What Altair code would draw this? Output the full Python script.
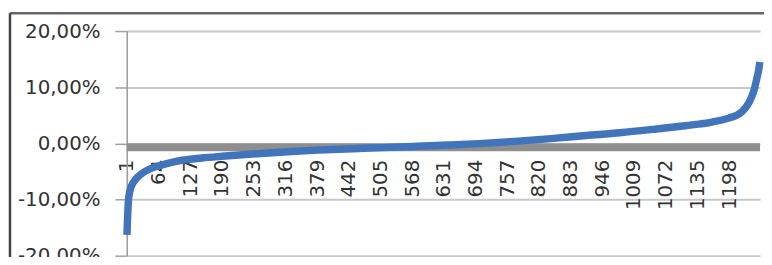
import altair as alt
import pandas as pd

obs_index = [1, 2, 3, 4, 6, 9, 14, 20, 30, 45, 60, 80, 110, 150, 190, 250, 320, 380,
             450, 510, 570, 640, 700, 772, 844, 914, 981, 1046, 1111, 1164, 1197,
             1223, 1237, 1247, 1253, 1257, 1259]
obs_value_pct = [-16.3, -13.5, -11.5, -10.0, -8.8, -7.8, -6.9, -6.2, -5.4, -4.6, -4.1,
                 -3.6, -3.0, -2.6, -2.3, -1.9, -1.5, -1.2, -0.95, -0.75, -0.55, -0.3,
                 -0.05, 0.35, 0.85, 1.4, 1.9, 2.5, 3.15, 3.8, 4.5, 5.6, 7.2, 9.3, 11.5,
                 13.2, 14.5]
n_obs = 1259

# Category tick labels
x_tick_labels = [1, 64, 127, 190, 253, 316, 379, 442, 505, 568, 631, 694, 757, 820,
                 883, 946, 1009, 1072, 1135, 1198]
y_ticks = [-0.2, -0.1, 0.0, 0.1, 0.2]

# Grey reference band level (percent)
ref_level_pct = [-0.7]

W, H = 640, 227

df = pd.DataFrame({"i": obs_index, "v": [v / 100 for v in obs_value_pct]})
ref_df = pd.DataFrame({"r": [v / 100 for v in ref_level_pct]})
one = pd.DataFrame({"a": [0]})

x_scale = alt.Scale(domain=[0.5, n_obs + 0.5], nice=False, zero=False)
y_scale = alt.Scale(domain=[-0.2, 0.2], nice=False)

y_axis = alt.Axis(
    values=y_ticks,
    labelExpr="(datum.value < 0 ? '-' : '') + replace(format(abs(datum.value), '.2%'), '.', ',')",
    grid=True, gridColor="#c8c8c8", gridWidth=2,
    domain=True, domainColor="#9a9a9a", domainWidth=1.5,
    ticks=True, tickSize=12, tickColor="#a0a0a0", tickWidth=1.5,
    labelPadding=15, labelFont="DejaVu Sans", labelFontSize=20, labelColor="#333333",
    title=None,
)

x_axis = alt.Axis(
    values=x_tick_labels, format="d", labelAngle=270, offset=-H / 2,
    domain=False, ticks=False, tickSize=0, grid=False,
    labelPadding=16, labelFont="DejaVu Sans", labelFontSize=20, labelColor="#333333",
    labelOverlap=False, labelFlush=False, title=None,
)

line = alt.Chart(df).mark_line(
    interpolate="monotone", strokeWidth=7.5, color="#4174bb", strokeCap="butt"
).encode(
    x=alt.X("i:Q", scale=x_scale, axis=x_axis),
    y=alt.Y("v:Q", scale=y_scale, axis=y_axis),
)

ref = alt.Chart(ref_df).mark_rule(color="#8e8e8e", strokeWidth=8).encode(
    y=alt.Y("r:Q", scale=y_scale)
)

border_top = alt.Chart(one).mark_rule(color="#666666", strokeWidth=2.5).encode(
    x=alt.value(-118), x2=alt.value(W + 6), y=alt.value(-18)
)
border_left = alt.Chart(one).mark_rule(color="#444444", strokeWidth=2.5).encode(
    x=alt.value(-118), y=alt.value(-18), y2=alt.value(H + 10)
)

chart = alt.layer(ref, line, border_top, border_left).properties(
    width=W, height=H,
    autosize=alt.AutoSizeParams(type="none"),
    padding={"left": 120, "top": 22, "right": 4, "bottom": 0},
).configure_view(strokeWidth=0)

chart.save("out.html", embed_options={"renderer": "svg", "actions": False})
